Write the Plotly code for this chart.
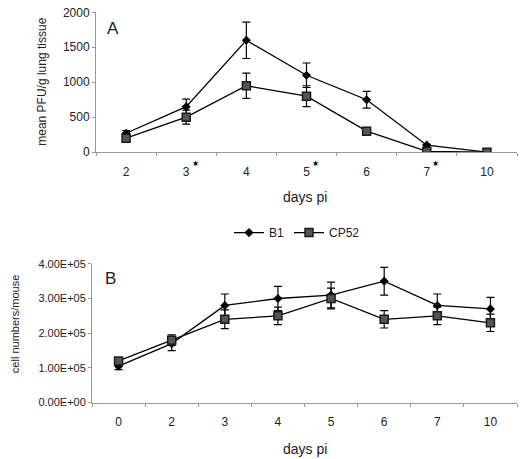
import plotly.graph_objects as go

# Panel A data
days_a = ["2", "3", "4", "5", "6", "7", "10"]
b1_a = [270, 650, 1600, 1100, 750, 100, 0]
b1_a_err = [40, 110, 260, 175, 120, 10, 0]
cp52_a = [200, 500, 950, 800, 300, 10, 0]
cp52_a_err = [30, 100, 180, 150, 40, 5, 0]
star_days = ["3", "5", "7"]

# Panel B data
days_b = ["0", "2", "3", "4", "5", "6", "7", "10"]
b1_b = [105000, 170000, 280000, 300000, 310000, 350000, 280000, 270000]
b1_b_err = [10000, 20000, 33000, 35000, 37000, 40000, 33000, 33000]
cp52_b = [120000, 180000, 240000, 250000, 300000, 240000, 250000, 230000]
cp52_b_err = [8000, 15000, 27000, 25000, 30000, 25000, 25000, 25000]
b_tickvals = [0, 100000, 200000, 300000, 400000]
b_ticktext = ["0.00E+00", "1.00E+05", "2.00E+05", "3.00E+05", "4.00E+05"]
a_tickvals = [0, 500, 1000, 1500, 2000]

FONT = "Liberation Sans, Arial, sans-serif"
W, H = 526, 459

def py(y_px):
    """paper y fraction for a target screenshot pixel row (compensates capture offset/scale)"""
    return 1 - ((y_px - 7.7) / 0.966) / H

def err(vals):
    return dict(type="data", array=vals, visible=True, color="black", thickness=1.2, width=4)

b1_style = dict(mode="lines+markers", line=dict(color="black", width=1.3),
                marker=dict(symbol="diamond", size=7, color="black"))
cp_style = dict(mode="lines+markers", line=dict(color="black", width=1.3),
                marker=dict(symbol="square", size=8, color="#555555", line=dict(color="#1a1a1a", width=1.5)))

fig = go.Figure()
fig.add_trace(go.Scatter(x=days_a, y=b1_a, error_y=err(b1_a_err), name="B1", xaxis="x", yaxis="y", **b1_style))
fig.add_trace(go.Scatter(x=days_a, y=cp52_a, error_y=err(cp52_a_err), name="CP52", xaxis="x", yaxis="y", **cp_style))
fig.add_trace(go.Scatter(x=days_b, y=b1_b, error_y=err(b1_b_err), name="B1", xaxis="x2", yaxis="y2", showlegend=False, **b1_style))
fig.add_trace(go.Scatter(x=days_b, y=cp52_b, error_y=err(cp52_b_err), name="CP52", xaxis="x2", yaxis="y2", showlegend=False, **cp_style))

def axis_common(size):
    return dict(showgrid=False, zeroline=False, showline=True, linecolor="#999999", linewidth=1,
                ticks="outside", tickcolor="#999999", ticklen=3,
                tickfont=dict(family=FONT, size=size, color="#222"))

fig.update_layout(
    width=W, height=H, margin=dict(l=0, r=0, t=0, b=0),
    paper_bgcolor="white", plot_bgcolor="white",
    font=dict(family=FONT, size=12, color="#222"),
    xaxis=dict(domain=[96/W, 517/W], anchor="y", type="category", tickson="boundaries",
               range=[-0.5, len(days_a)-0.5], ticklabelstandoff=8, **axis_common(12)),
    yaxis=dict(domain=[py(153), py(14)], anchor="x", range=[0, 2000], tickvals=a_tickvals, **axis_common(12)),
    xaxis2=dict(domain=[92/W, 517/W], anchor="y2", type="category", tickson="boundaries",
                range=[-0.5, len(days_b)-0.5], ticklabelstandoff=8, **axis_common(12)),
    yaxis2=dict(domain=[py(402), py(264)], anchor="x2", range=[0, 400000], tickvals=b_tickvals,
                ticktext=b_ticktext, **axis_common(11)),
    legend=dict(orientation="h", x=297/W, xanchor="center", y=py(233), yanchor="middle",
                font=dict(family=FONT, size=12, color="#222"), itemwidth=30, bgcolor="rgba(0,0,0,0)"),
    showlegend=True,
)

ann = [
    dict(text="A", x=113/W, y=py(30), font=dict(size=17)),
    dict(text="B", x=110/W, y=py(279), font=dict(size=17)),
    dict(text="days pi", x=305/W, y=py(198), font=dict(size=14)),
    dict(text="days pi", x=305/W, y=py(448), font=dict(size=14)),
    dict(text="mean PFU/g lung tissue", x=42/W, y=py(83), textangle=-90, font=dict(size=12)),
    dict(text="cell numbers/mouse", x=15/W, y=py(324), textangle=-90, font=dict(size=11)),
]
for a in ann:
    fig.add_annotation(xref="paper", yref="paper", showarrow=False, xanchor="center", yanchor="middle",
                       font=dict(family=FONT, color="#222", **a.pop("font")), **a)

for d in star_days:
    fig.add_annotation(x=days_a.index(d), xref="x", y=0, yref="y", text="★", showarrow=False,
                       xshift=9, yshift=-11, font=dict(size=8, color="black"))

fig.write_html("out.html", config=dict(displayModeBar=False, responsive=False),
               post_script="document.body.style.margin='0';document.body.style.overflow='hidden';")
